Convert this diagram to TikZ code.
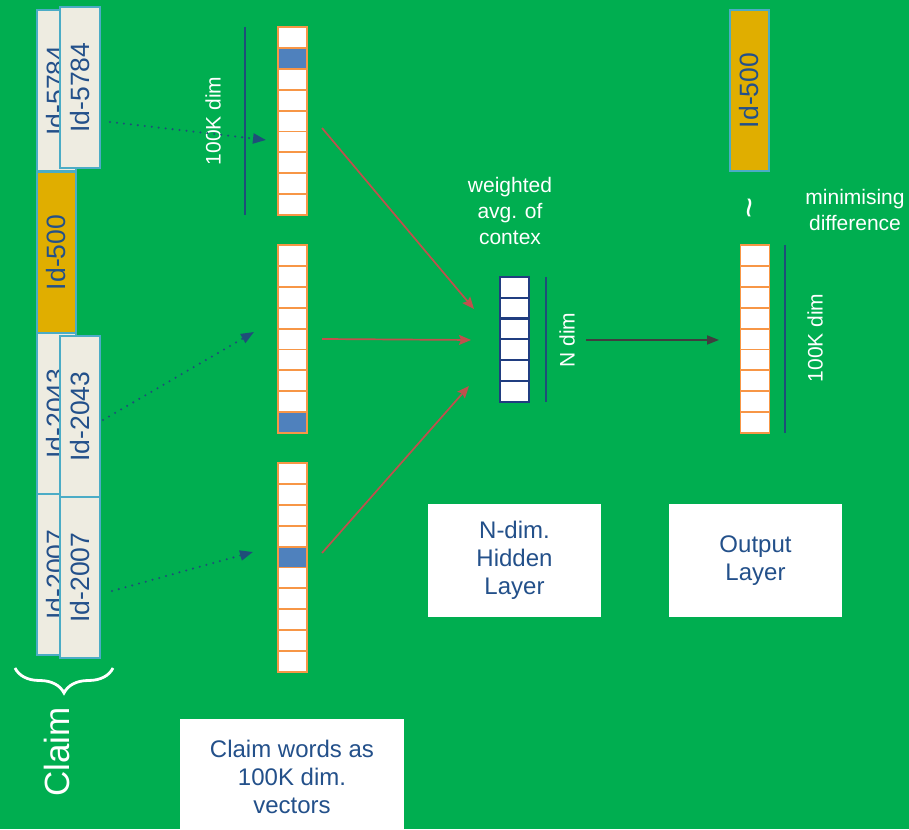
\documentclass[tikz,border=0pt]{standalone}
\usepackage{fontspec}
\setmainfont{Liberation Sans}
\usetikzlibrary{arrows.meta,decorations.pathreplacing}
\definecolor{bg}{HTML}{00AE50}
\definecolor{cardfill}{HTML}{EEECE1}
\definecolor{cardedge}{HTML}{4BACC6}
\definecolor{gold}{HTML}{E0AE00}
\definecolor{txtblue}{HTML}{23508A}
\definecolor{cellor}{HTML}{F79646}
\definecolor{cellblue}{HTML}{4F81BD}
\definecolor{hidblue}{HTML}{203D80}
\definecolor{linecol}{HTML}{1F4E79}
\definecolor{redc}{HTML}{C0504D}
\definecolor{darkc}{HTML}{3F3F3F}
\begin{document}
\begin{tikzpicture}[x=1pt,y=1pt,
  card/.style={draw=cardedge, fill=cardfill, line width=1.5pt, rotate=90,
    minimum width=161pt, minimum height=39pt, inner sep=0pt, text=txtblue,
    font=\fontsize{26.5}{30}\selectfont},
  fcard/.style={card, minimum height=40pt},
  cell/.style={draw=cellor, fill=white, line width=1.9pt, minimum width=29pt,
    minimum height=20.9pt, inner sep=0pt},
  ncell/.style={draw=hidblue, fill=white, line width=2.2pt, minimum width=29pt,
    minimum height=20.8pt, inner sep=0pt},
  ann/.style={text=white, font=\fontsize{21}{26}\selectfont, align=center, inner sep=0pt},
  lbox/.style={fill=white, text=txtblue, font=\fontsize{24}{28}\selectfont,
    align=center, inner sep=0pt},
  dimline/.style={draw=linecol, line width=2pt},
  dotarrow/.style={draw=linecol, line width=2.3pt, dash pattern=on 0pt off 7pt,
    line cap=round, -{Triangle[length=13pt,width=10pt]}},
  redarrow/.style={draw=redc, line width=1.7pt, -{Stealth[length=12pt,width=10pt,inset=2pt]}},
  darkarrow/.style={draw=darkc, line width=1.7pt, -{Triangle[length=12pt,width=9pt]}},
  hlA1/.style={fill=cellblue},
  hlB8/.style={fill=cellblue},
  hlC4/.style={fill=cellblue}
]
\useasboundingbox (0,0) rectangle (909,829);
\fill[bg] (0,0) rectangle (909,829);

% cards (left stack)
\node[card] (b5784) at (56.5,738.5) {Id-5784};
\node[card, fill=gold] (id500) at (56.5,576.5) {Id-500};
\node[card] (b2043) at (56.5,415.5) {Id-2043};
\node[card] (b2007) at (56.5,254.5) {Id-2007};
\node[fcard] (f5784) at (80,741.5) {Id-5784};
\node[fcard] (f2043) at (80,412.5) {Id-2043};
\node[fcard] (f2007) at (80,251.5) {Id-2007};

% output card
\node[card, fill=gold] (outid) at (749.5,738.5) {Id-500};

% input vectors
\foreach \i in {0,...,8} \node[cell, hlA\i/.try] (a\i) at (292.5,{829-37.45-\i*20.9}) {};
\foreach \i in {0,...,8} \node[cell, hlB\i/.try] (b\i) at (292.5,{829-255.45-\i*20.9}) {};
\foreach \i in {0,...,9} \node[cell, hlC\i/.try] (c\i) at (292.5,{829-473.45-\i*20.9}) {};
% output vector
\foreach \i in {0,...,8} \node[cell] (o\i) at (755,{829-255.45-\i*20.9}) {};
% hidden vector
\foreach \i in {0,...,5} \node[ncell] (h\i) at (514.5,{829-287.4-\i*20.8}) {};

% dimension lines
\coordinate (l1t) at (245,802);
\coordinate (l1b) at (245,614);
\draw[dimline] (l1t) -- (l1b);
\coordinate (l2t) at (546,552);
\coordinate (l2b) at (546,427);
\draw[dimline] (l2t) -- (l2b);
\coordinate (l3t) at (785,584);
\coordinate (l3b) at (785,396);
\draw[dimline] (l3t) -- (l3b);

% labels
\node[ann, rotate=90] (t100a) at (213,708) {100K dim};
\node[ann, rotate=90] (tN) at (567,489) {N dim};
\node[ann, rotate=90] (t100b) at (815,491) {100K dim};
\node[ann] (wavg) at (510,618) {weighted\\avg. of\\contex};
\node[ann] (mind) at (855,618.5) {minimising\\difference};
\node[ann, rotate=90, font=\fontsize{36}{36}\selectfont] (tilde) at (754,621) {\textasciitilde};

% label boxes
\node[lbox, minimum width=173pt, minimum height=113pt] (hidbox) at (514.5,268.5) {N-dim.\\Hidden\\Layer};
\node[lbox, minimum width=173pt, minimum height=113pt] (outbox) at (755.5,268.5) {Output\\Layer};
\node[lbox, minimum width=224pt, minimum height=116pt] (claimbox) at (292,52) {Claim words as\\100K dim.\\vectors};

% dotted arrows
\coordinate (d1s) at (110,707);
\coordinate (d1e) at (266,689);
\coordinate (d2s) at (103,409);
\coordinate (d2e) at (254,497);
\coordinate (d3s) at (112,238);
\coordinate (d3e) at (253,277);
\draw[dotarrow] (d1s) -- (d1e);
\draw[dotarrow] (d2s) -- (d2e);
\draw[dotarrow] (d3s) -- (d3e);

% red arrows
\coordinate (r1s) at (322,701);
\coordinate (r1e) at (474,520);
\coordinate (r2s) at (322,490);
\coordinate (r2e) at (471,489);
\coordinate (r3s) at (322,276);
\coordinate (r3e) at (469,443);
\draw[redarrow] (r1s) -- (r1e);
\draw[redarrow] (r2s) -- (r2e);
\draw[redarrow] (r3s) -- (r3e);

% hidden to output
\coordinate (ks) at (586,489);
\coordinate (ke) at (719,489);
\draw[darkarrow] (ks) -- (ke);

% brace and claim
\coordinate (bR) at (113,161);
\coordinate (bL) at (15,161);
\draw[white, line width=2.8pt, decorate, decoration={brace, amplitude=25pt, aspect=0.5}] (bR) -- (bL);
\node[text=white, rotate=90, font=\fontsize{35}{40}\selectfont, inner sep=0pt] (claim) at (57,77) {Claim};
\end{tikzpicture}
\end{document}
